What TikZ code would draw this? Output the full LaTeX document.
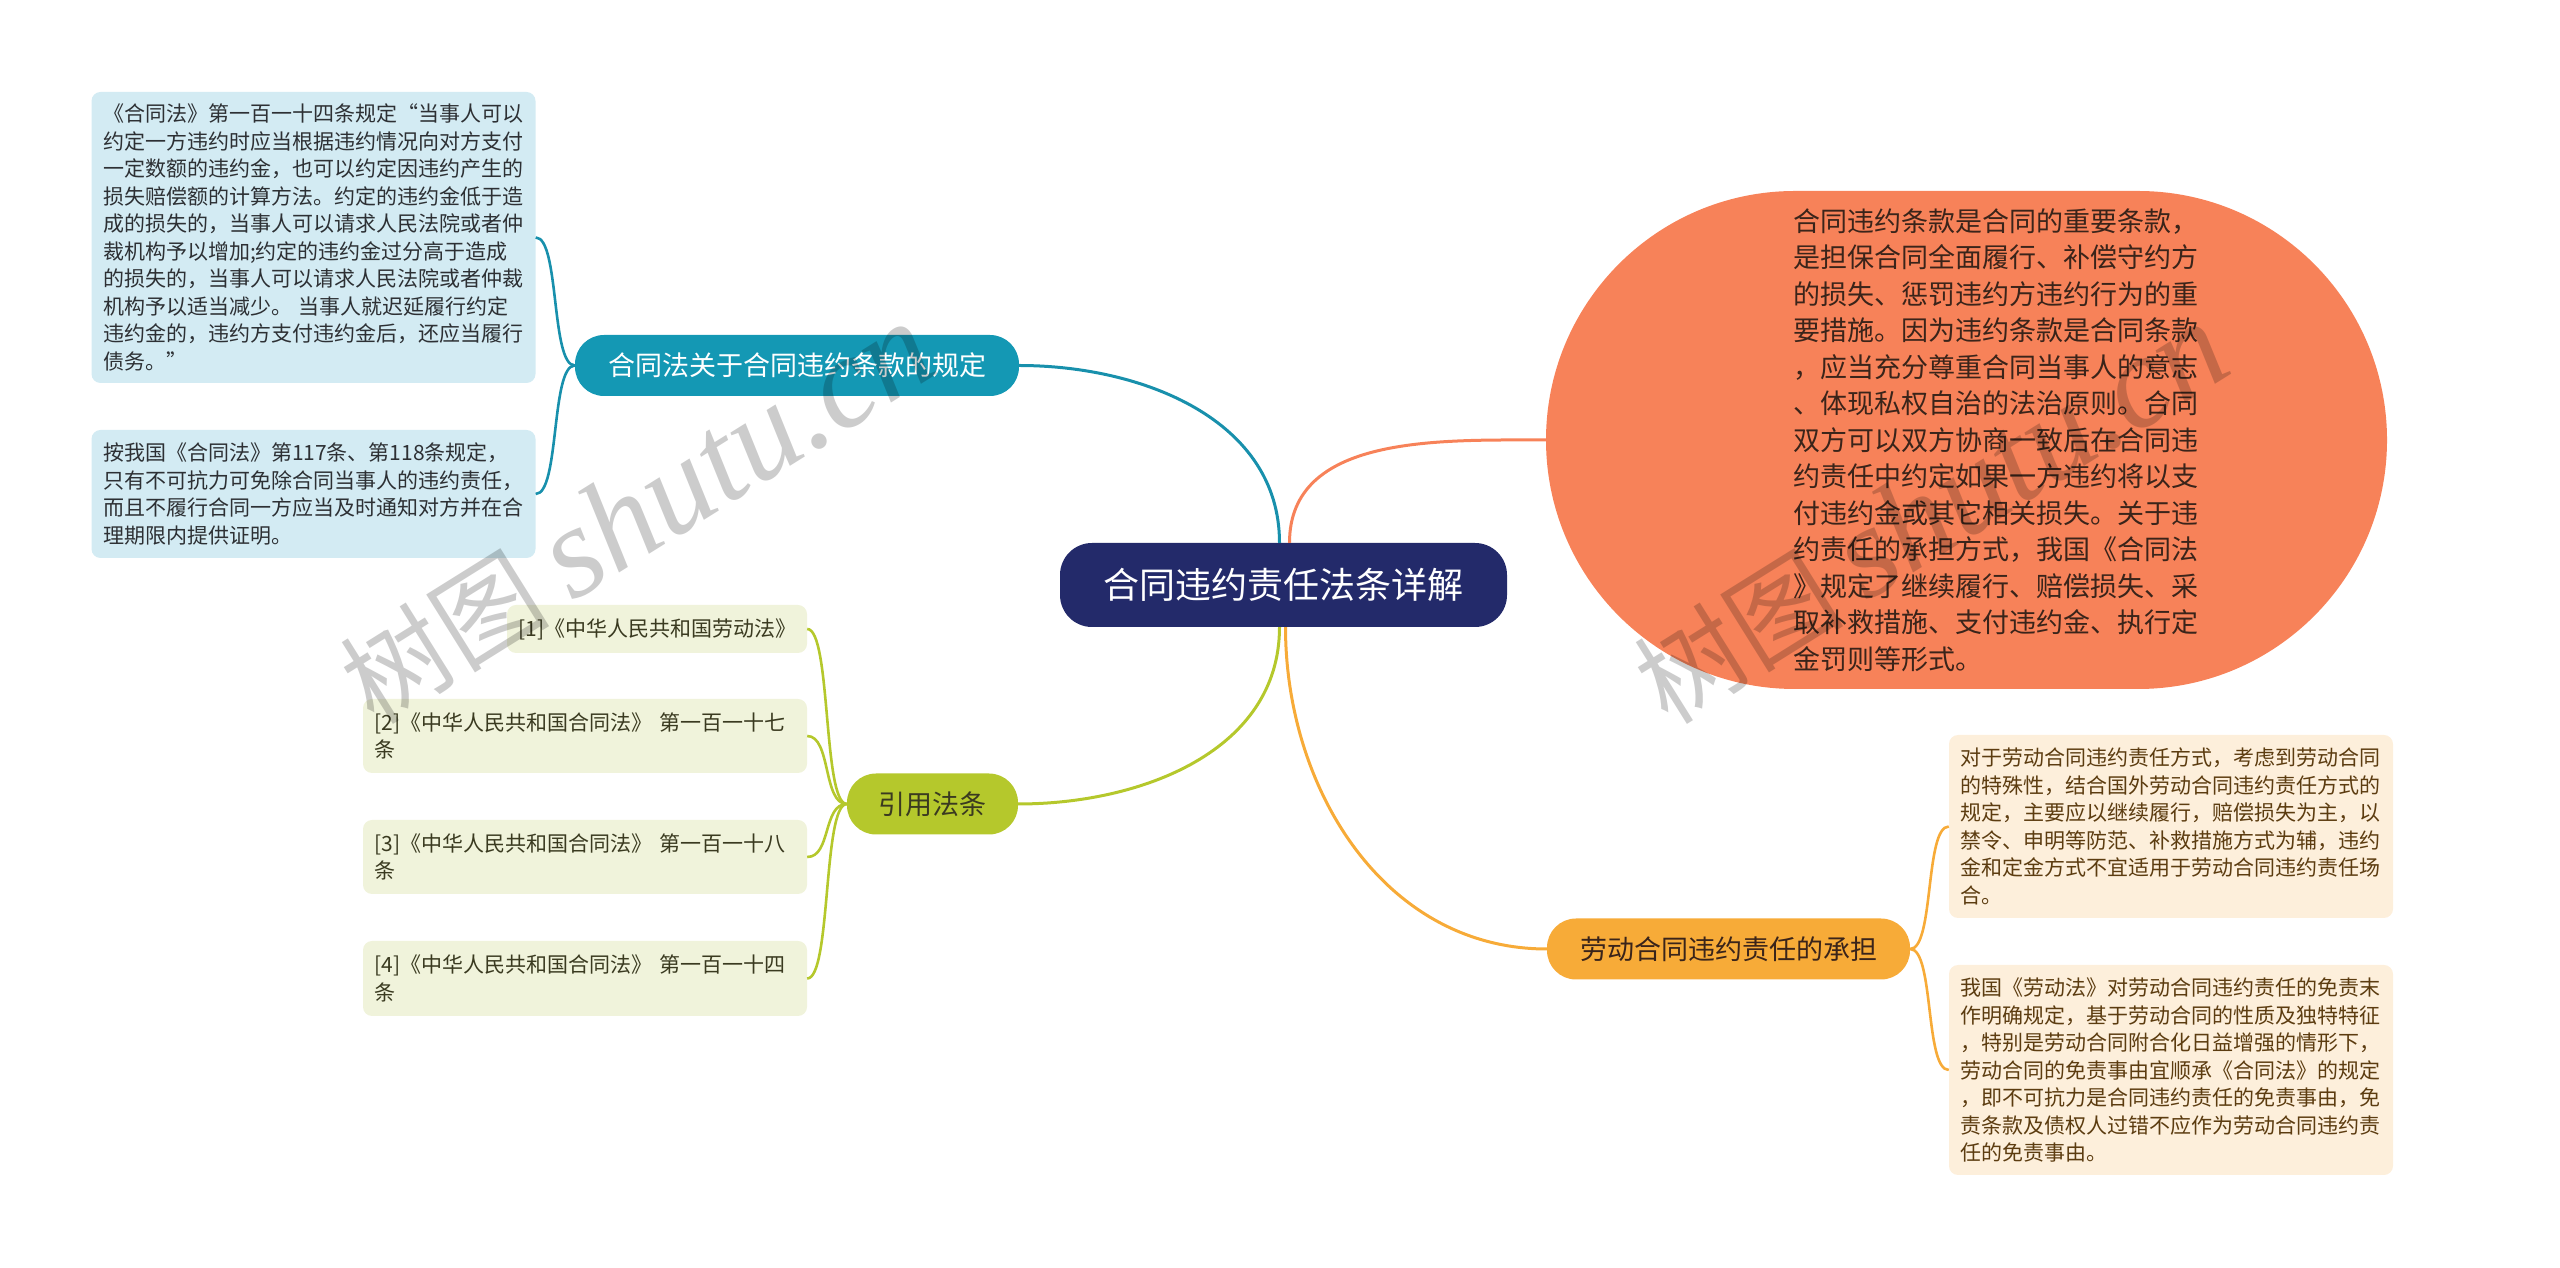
\documentclass[tikz,border=0pt]{standalone}
\usepackage{fontspec}
\setmainfont{Noto Sans CJK SC}
\newfontfamily\wmlatin{Liberation Serif}
\usepackage{tikz}
\definecolor{cNavy}{RGB}{35,42,106}
\definecolor{cTeal}{RGB}{20,152,180}
\definecolor{cTealLine}{RGB}{24,144,172}
\definecolor{cLeafBlue}{RGB}{211,235,243}
\definecolor{cGreen}{RGB}{181,200,44}
\definecolor{cLeafGreen}{RGB}{240,243,219}
\definecolor{cCoral}{RGB}{247,130,89}
\definecolor{cAmber}{RGB}{247,171,56}
\definecolor{cLeafAmber}{RGB}{253,239,219}
\definecolor{cInk}{RGB}{45,48,52}
\definecolor{cOlive}{RGB}{58,58,32}
\definecolor{cBrown}{RGB}{92,60,16}
\definecolor{cDeep}{RGB}{58,36,26}
\tikzset{
	root/.style   ={rectangle, rounded corners=32pt, fill=cNavy, text=white, minimum width=447pt, minimum height=84pt, font=\fontsize{36}{40}\selectfont},
	topic/.style  ={rectangle, rounded corners=29pt, minimum height=61pt, inner sep=0pt, font=\fontsize{27}{30}\selectfont},
	leaf/.style   ={rectangle, rounded corners=9pt, align=left, inner xsep=11.5pt, inner ysep=0pt, text width=421pt, font=\fontsize{21}{27.5}\selectfont},
	bubble/.style ={rectangle, rounded corners=249pt, fill=cCoral, text=cDeep, inner sep=0pt, minimum width=841pt, minimum height=498pt, font=\fontsize{27}{36.5}\selectfont},
	% connectors and the watermark
	link/.style   ={line width=3pt},
	sublink/.style={line width=2.6pt, out distance=24pt, in distance=24pt},
	wmark/.style  ={text=black, opacity=0.2, rotate=32, inner sep=0pt},
}

\begin{document}
\begin{tikzpicture}[x=1pt, y=1pt]
	\useasboundingbox (0,0) rectangle (2560,1267);
	\node[root] (c) at (1283.5,682) {合同违约责任法条详解};
	\node[topic, fill=cTeal, text=white, minimum width=444pt] (law) at (797,901.5) {合同法关于合同违约条款的规定};
	\node[topic, fill=cGreen, text=cOlive, minimum width=171pt] (cite) at (932.5,463) {引用法条};
	\node[topic, fill=cAmber, text=cDeep, minimum width=363pt] (labor) at (1728.5,318) {劳动合同违约责任的承担};
	\node[bubble] (note) at (1966.5,827) {\hspace*{62pt}\parbox{408pt}{\raggedright
		合同违约条款是合同的重要条款，\\
		是担保合同全面履行、补偿守约方\\
		的损失、惩罚违约方违约行为的重\\
		要措施。因为违约条款是合同条款\\
		，应当充分尊重合同当事人的意志\\
		、体现私权自治的法治原则。合同\\
		双方可以双方协商一致后在合同违\\
		约责任中约定如果一方违约将以支\\
		付违约金或其它相关损失。关于违\\
		约责任的承担方式，我国《合同法\\
		》规定了继续履行、赔偿损失、采\\
		取补救措施、支付违约金、执行定\\
		金罚则等形式。}};
	\node[leaf, fill=cLeafBlue, text=cInk, minimum height=291pt] (q1) at (313.5,1029.5) {%
		《合同法》第一百一十四条规定“当事人可以\\
		约定一方违约时应当根据违约情况向对方支付\\
		一定数额的违约金，也可以约定因违约产生的\\
		损失赔偿额的计算方法。约定的违约金低于造\\
		成的损失的，当事人可以请求人民法院或者仲\\
		裁机构予以增加;约定的违约金过分高于造成\\
		的损失的，当事人可以请求人民法院或者仲裁\\
		机构予以适当减少。 当事人就迟延履行约定\\
		违约金的，违约方支付违约金后，还应当履行\\
		债务。”};
	\node[leaf, fill=cLeafBlue, text=cInk, minimum height=128pt] (q2) at (313.5,773) {%
		按我国《合同法》第117条、第118条规定，\\
		只有不可抗力可免除合同当事人的违约责任，\\
		而且不履行合同一方应当及时通知对方并在合\\
		理期限内提供证明。};
	\node[leaf, fill=cLeafGreen, text=cOlive, text width=277pt, minimum height=48pt] (r1) at (657,638) {[1]《中华人民共和国劳动法》};
	\node[leaf, fill=cLeafGreen, text=cOlive, minimum height=74pt] (r2) at (585,531) {[2]《中华人民共和国合同法》 第一百一十七\\条};
	\node[leaf, fill=cLeafGreen, text=cOlive, minimum height=74pt] (r3) at (585,410) {[3]《中华人民共和国合同法》 第一百一十八\\条};
	\node[leaf, fill=cLeafGreen, text=cOlive, minimum height=75pt] (r4) at (585,288.5) {[4]《中华人民共和国合同法》 第一百一十四\\条};
	\node[leaf, fill=cLeafAmber, text=cBrown, minimum height=183pt] (p1) at (2171,440.5) {%
		对于劳动合同违约责任方式，考虑到劳动合同\\
		的特殊性，结合国外劳动合同违约责任方式的\\
		规定，主要应以继续履行，赔偿损失为主，以\\
		禁令、申明等防范、补救措施方式为辅，违约\\
		金和定金方式不宜适用于劳动合同违约责任场\\
		合。};
	\node[leaf, fill=cLeafAmber, text=cBrown, minimum height=210pt] (p2) at (2171,197) {%
		我国《劳动法》对劳动合同违约责任的免责末\\
		作明确规定，基于劳动合同的性质及独特特征\\
		，特别是劳动合同附合化日益增强的情形下，\\
		劳动合同的免责事由宜顺承《合同法》的规定\\
		，即不可抗力是合同违约责任的免责事由，免\\
		责条款及债权人过错不应作为劳动合同违约责\\
		任的免责事由。};

	\draw[link, cTealLine] ([xshift=-4pt]c.north) to[out=90, in=0] (law.east);
	\draw[link, cCoral] ([xshift=6pt]c.north) to[out=90, in=180] (note.west);
	\draw[link, cGreen] ([xshift=-4pt]c.south) to[out=-90, in=0] (cite.east);
	\draw[link, cAmber] ([xshift=2pt]c.south) to[out=-90, in=180] (labor.west);
	\foreach \q in {q1,q2}
		\draw[sublink, cTealLine] (law.west) to[out=180, in=0] (\q.east);
	\foreach \r in {r1,r2,r3,r4}
		\draw[sublink, cGreen] (cite.west) to[out=180, in=0] (\r.east);
	\foreach \p in {p1,p2}
		\draw[sublink, cAmber] (labor.east) to[out=0, in=180] (\p.west);

	\node[wmark] (wm1) at (637,753) {\fontsize{105}{110}\selectfont 树图\ {\wmlatin\itshape\fontsize{130}{140}\selectfont shutu.cn}};
	\node[wmark] (wm2) at (1931,753) {\fontsize{105}{110}\selectfont 树图\ {\wmlatin\itshape\fontsize{130}{140}\selectfont shutu.cn}};
\end{tikzpicture}
\end{document}
